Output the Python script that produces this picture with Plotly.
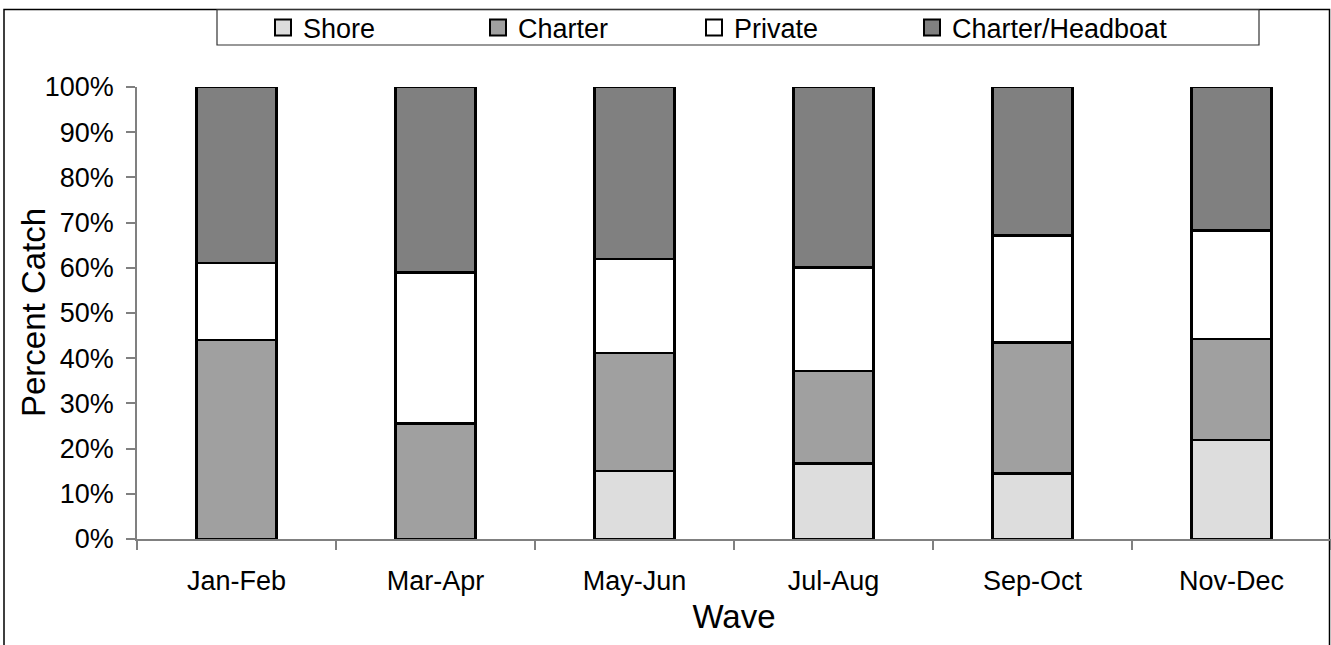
import plotly.graph_objects as go

# ---- data (percent of catch by mode) ----
waves = ["Jan-Feb", "Mar-Apr", "May-Jun", "Jul-Aug", "Sep-Oct", "Nov-Dec"]
shore = [0.0, 0.0, 15.1, 16.7, 14.5, 21.9]
charter = [44.0, 25.6, 26.1, 20.5, 29.0, 22.3]
private = [17.1, 33.4, 20.8, 22.9, 23.6, 24.0]
headboat = [38.9, 41.0, 38.0, 39.9, 32.9, 31.8]
y_ticks = [0, 10, 20, 30, 40, 50, 60, 70, 80, 90, 100]
y_tick_labels = ["0%", "10%", "20%", "30%", "40%", "50%", "60%", "70%", "80%", "90%", "100%"]

series_names = ["Shore", "Charter", "Private", "Charter/Headboat"]
series_colors = ["#dddddd", "#a0a0a0", "#ffffff", "#808080"]

W, H = 1331, 645
L, R, T, B = 137, 0, 87, 106
PW, PH = W - L - R, H - T - B
FONT = "Liberation Sans, Arial, sans-serif"


def px_x(x):
    return (x - L) / PW


def px_y(y):
    return (H - B - y) / PH


# legend entry anchor positions (pixels, left edge of each legend)
legend_px = [263, 478, 694, 912]
legend_ids = ["legend", "legend2", "legend3", "legend4"]

fig = go.Figure()
for name, vals, col in zip(series_names, [shore, charter, private, headboat], series_colors):
    fig.add_trace(go.Bar(
        x=waves, y=vals, name=name, width=0.4, showlegend=False,
        marker=dict(color=col, line=dict(color="black", width=2.5)),
    ))

# legend keys
for name, col, lid in zip(series_names, series_colors, legend_ids):
    fig.add_trace(go.Scatter(
        x=[None], y=[None], mode="markers", name=name, legend=lid, showlegend=True,
        marker=dict(symbol="square", size=16, color=col, line=dict(color="black", width=2)),
        hoverinfo="skip",
    ))

legend_common = dict(
    orientation="h", xanchor="left", yanchor="middle", y=px_y(28),
    bgcolor="rgba(0,0,0,0)", borderwidth=0, itemsizing="trace",
    font=dict(family=FONT, size=27, color="black"),
)
legend_layout = {}
for lid, lx in zip(legend_ids, legend_px):
    legend_layout[lid] = dict(legend_common, x=px_x(lx))

fig.update_layout(
    width=W, height=H,
    barmode="stack",
    plot_bgcolor="white", paper_bgcolor="white",
    margin=dict(l=L, r=R, t=T, b=B, autoexpand=False),
    font=dict(family=FONT, size=27, color="black"),
    showlegend=True,
    xaxis=dict(
        type="category", showgrid=False,
        showline=True, linecolor="#808080", linewidth=1.5,
        ticks="outside", tickson="boundaries", ticklen=9, tickcolor="#808080", tickwidth=1.5,
        tickfont=dict(family=FONT, size=27, color="black"),
        ticklabelstandoff=17,
        title=dict(text="Wave", font=dict(family=FONT, size=33, color="black"), standoff=10),
        range=[-0.5, 5.5],
    ),
    yaxis=dict(
        range=[0, 100], tickmode="array", tickvals=y_ticks, ticktext=y_tick_labels,
        showgrid=False, zeroline=False,
        showline=True, linecolor="#808080", linewidth=1.5,
        ticks="outside", ticklen=9, tickcolor="#808080", tickwidth=1.5,
        tickfont=dict(family=FONT, size=27, color="black"),
        ticklabelstandoff=7,
    ),
    annotations=[
        dict(text="Percent Catch", textangle=-90, xref="paper", yref="paper",
             x=px_x(33), y=0.5, xanchor="center", yanchor="middle", showarrow=False,
             font=dict(family=FONT, size=33, color="black")),
    ],
    shapes=[
        # outer chart border
        dict(type="rect", xref="paper", yref="paper",
             x0=px_x(4), x1=px_x(1329.5), y0=px_y(700), y1=px_y(9.5),
             line=dict(color="black", width=1.5), fillcolor="rgba(0,0,0,0)", layer="below"),
        # legend box
        dict(type="rect", xref="paper", yref="paper",
             x0=px_x(217), x1=px_x(1259), y0=px_y(45), y1=px_y(9.5),
             line=dict(color="#333333", width=1.2), fillcolor="rgba(0,0,0,0)", layer="below"),
    ],
    **legend_layout,
)

fig.write_html("out.html", config={"displayModeBar": False},
               post_script="document.body.style.margin='0';")
